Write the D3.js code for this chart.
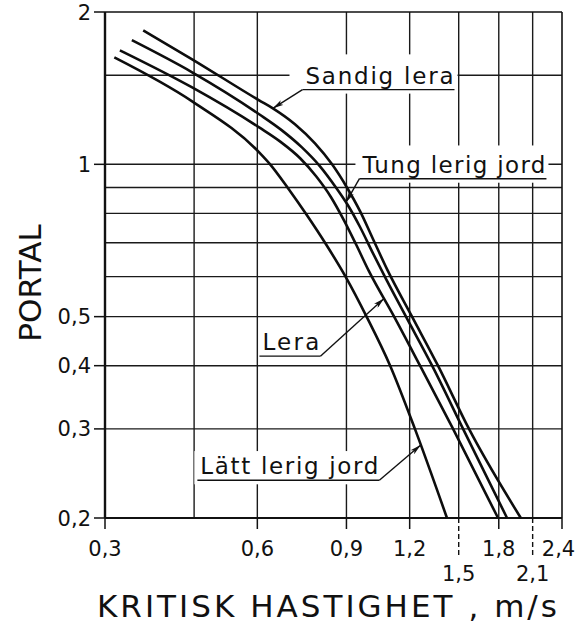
<!DOCTYPE html>
<html><head><meta charset="utf-8">
<script src="https://cdn.jsdelivr.net/npm/d3@7"></script>
<style>
html,body{margin:0;padding:0;background:#fff;}
svg{display:block;}
text{font-family:"DejaVu Sans",sans-serif;fill:#111;}
</style></head><body>
<svg id="chart" width="577" height="625"></svg>
<script>
// ---- data (speed m/s, portal) ----
const sandigLera = [[0.357,1.84],[0.446,1.613],[0.605,1.338],[0.644,1.29],[0.712,1.2],[0.78,1.1],[0.843,1.0],[0.902,0.9],[0.958,0.807],[1.016,0.711],[1.083,0.62],[1.213,0.5],[1.365,0.4],[1.572,0.3],[1.99,0.2]];
const tungLerigJord = [[0.339,1.759],[0.446,1.52],[0.605,1.256],[0.671,1.167],[0.735,1.08],[0.798,0.991],[0.858,0.9],[0.906,0.83],[0.958,0.751],[1.011,0.673],[1.078,0.593],[1.18,0.5],[1.329,0.4],[1.53,0.3],[1.869,0.2]];
const lera = [[0.321,1.68],[0.446,1.419],[0.605,1.183],[0.665,1.11],[0.729,1.028],[0.784,0.947],[0.839,0.861],[0.89,0.775],[0.94,0.695],[0.997,0.615],[1.118,0.5],[1.258,0.4],[1.462,0.3],[1.794,0.2]];
const lattLerigJord = [[0.313,1.627],[0.446,1.332],[0.605,1.056],[0.636,1.0],[0.69,0.897],[0.752,0.793],[0.82,0.695],[0.898,0.598],[0.988,0.4985],[1.098,0.4],[1.229,0.3],[1.422,0.2]];

const xTicksRow1 = [0.3,0.6,0.9,1.2,1.8,2.4];
const xTicksRow2 = [1.5,2.1];
const yTicks = [0.2,0.3,0.4,0.5,1,2];
const xGrid = [0.45,0.6,0.9,1.2,1.5,1.8,2.1];
const yGrid = [1.5,1,0.9,0.8,0.7,0.6,0.5,0.4,0.3];
const xTitle = "KRITISK HASTIGHET , m/s";
const yTitle = "PORTAL";
const fmt = v => String(v).replace(".", ",");

// ---- annotation layout ----
const labels = [
  {text:"Sandig lera", series:sandigLera, tipX:0.644, tx:0.747, ty:1.5, width:148, lead:"start", mask:[16,4,12,6]},
  {text:"Tung lerig jord", series:tungLerigJord, tipX:0.898, tx:0.968, ty:1.0, width:183, lead:"start", mask:[7,3,10,6]},
  {text:"Lera", series:lera, tipX:1.068, tx:0.614, ty:0.446, width:57, lead:"end", mask:null},
  {text:"Lätt lerig jord", series:lattLerigJord, tipX:1.262, tx:0.463, ty:0.2535, width:178, lead:"end", mask:[6,4,6,6]}
];

const svg = d3.select("#chart");
const x = d3.scaleLog().domain([0.3, 2.4]).range([105, 562]);
const y = d3.scaleLog().domain([0.2, 2]).range([518, 12]);

function yAt(series, xv){
  for(let i=0;i<series.length-1;i++){
    const a=series[i], b=series[i+1];
    if(xv>=a[0] && xv<=b[0]){
      const t=(Math.log(xv)-Math.log(a[0]))/(Math.log(b[0])-Math.log(a[0]));
      return Math.exp(Math.log(a[1])+t*(Math.log(b[1])-Math.log(a[1])));
    }
  }
  return series[series.length-1][1];
}

const defs = svg.append("defs");
defs.append("marker").attr("id","arr").attr("viewBox","0 0 12 6")
  .attr("refX",12).attr("refY",3).attr("markerWidth",11).attr("markerHeight",5.5)
  .attr("markerUnits","userSpaceOnUse").attr("orient","auto")
  .append("path").attr("d","M0,0 L12,3 L0,6 L3,3 Z").attr("fill","#111");

const lblFont = 23, capHalf = lblFont*0.365;
labels.forEach(l => {
  l.px = x(l.tx);
  l.base = y(l.ty) + capHalf;
});

const mask = defs.append("mask").attr("id","gm").attr("maskUnits","userSpaceOnUse")
  .attr("x",0).attr("y",0).attr("width",577).attr("height",625);
mask.append("rect").attr("width",577).attr("height",625).attr("fill","#fff");
labels.filter(l=>l.mask).forEach(l=>{
  const [pl,pr,pt,pb]=l.mask;
  mask.append("rect").attr("x",l.px-pl).attr("y",l.base-lblFont*0.75-pt)
    .attr("width",l.width+pl+pr).attr("height",lblFont*0.75+pt+pb+4).attr("fill","#000");
});

// grid
const grid = svg.append("g").attr("mask","url(#gm)").attr("stroke","#1a1a1a").attr("stroke-width",1.4);
grid.selectAll(".vg").data(xGrid).join("line")
  .attr("x1",d=>x(d)).attr("x2",d=>x(d)).attr("y1",y(2)).attr("y2",y(0.2));
grid.selectAll(".hg").data(yGrid).join("line")
  .attr("y1",d=>y(d)).attr("y2",d=>y(d)).attr("x1",x(0.3)).attr("x2",x(2.4));

// frame
const frame = svg.append("g").attr("stroke","#111");
frame.append("line").attr("x1",x(0.3)).attr("x2",x(0.3)).attr("y1",y(2)).attr("y2",y(0.2)).attr("stroke-width",2.4);
frame.append("line").attr("x1",x(2.4)).attr("x2",x(2.4)).attr("y1",y(2)).attr("y2",y(0.2)).attr("stroke-width",1.6);
frame.append("line").attr("x1",x(0.3)).attr("x2",x(2.4)).attr("y1",y(2)).attr("y2",y(2)).attr("stroke-width",1.6);
frame.append("line").attr("x1",x(0.3)).attr("x2",x(2.4)).attr("y1",y(0.2)).attr("y2",y(0.2)).attr("stroke-width",2.2);

// y ticks & labels
const yAx = svg.append("g");
yAx.selectAll("line").data(yTicks).join("line")
  .attr("x1",x(0.3)-11).attr("x2",x(0.3)).attr("y1",d=>y(d)).attr("y2",d=>y(d))
  .attr("stroke","#111").attr("stroke-width",1.5);
yAx.selectAll("text").data(yTicks).join("text")
  .attr("x",x(0.3)-14).attr("y",d=>y(d)+7.6).attr("text-anchor","end")
  .attr("font-size",21).text(fmt);

// x ticks & labels
const xAx = svg.append("g");
xAx.selectAll("line.t1").data(xTicksRow1).join("line").attr("class","t1")
  .attr("x1",d=>x(d)).attr("x2",d=>x(d)).attr("y1",y(0.2)).attr("y2",y(0.2)+11)
  .attr("stroke","#111").attr("stroke-width",1.5);
xAx.selectAll("line.t2").data(xTicksRow2).join("line").attr("class","t2")
  .attr("x1",d=>x(d)).attr("x2",d=>x(d)).attr("y1",y(0.2)).attr("y2",y(0.2)+40)
  .attr("stroke","#111").attr("stroke-width",1.4).attr("stroke-dasharray","5,3");
xAx.selectAll("text.r1").data(xTicksRow1).join("text").attr("class","r1")
  .attr("x",d=>Math.min(x(d), 575-16.5)).attr("y",y(0.2)+38).attr("text-anchor","middle")
  .attr("font-size",21).text(fmt);
xAx.selectAll("text.r2").data(xTicksRow2).join("text").attr("class","r2")
  .attr("x",d=>x(d)).attr("y",y(0.2)+63).attr("text-anchor","middle")
  .attr("font-size",21).text(fmt);

// titles
svg.append("text").attr("x",97).attr("y",617).attr("font-size",31)
  .attr("textLength",460).attr("lengthAdjust","spacing").text(xTitle);
svg.append("text").attr("transform","translate(41,283) rotate(-90)").attr("text-anchor","middle")
  .attr("font-size",31).text(yTitle);

// curves
const line = d3.line().x(d=>x(d[0])).y(d=>y(d[1])).curve(d3.curveMonotoneX);
svg.append("g").selectAll("path").data([sandigLera,tungLerigJord,lera,lattLerigJord]).join("path")
  .attr("d",line).attr("fill","none").attr("stroke","#0d0d0d").attr("stroke-width",2.6)
  .attr("stroke-linejoin","round");

// labels with underline + leader arrows
const ann = svg.append("g");
labels.forEach(l=>{
  ann.append("text").attr("x",l.px).attr("y",l.base).attr("font-size",lblFont)
    .attr("textLength",l.width).attr("lengthAdjust","spacing").text(l.text);
  const uy = l.base + 6;
  const ux0 = l.px - 3, ux1 = l.px + l.width + 1;
  ann.append("line").attr("x1",ux0).attr("x2",ux1).attr("y1",uy).attr("y2",uy)
    .attr("stroke","#111").attr("stroke-width",1.4);
  const sx = l.lead==="start" ? ux0 : ux1;
  const tipPx = x(l.tipX), tipPy = y(yAt(l.series,l.tipX));
  ann.append("line").attr("x1",sx).attr("y1",uy).attr("x2",tipPx).attr("y2",tipPy)
    .attr("stroke","#111").attr("stroke-width",1.4).attr("marker-end","url(#arr)");
});
</script>
</body></html>
